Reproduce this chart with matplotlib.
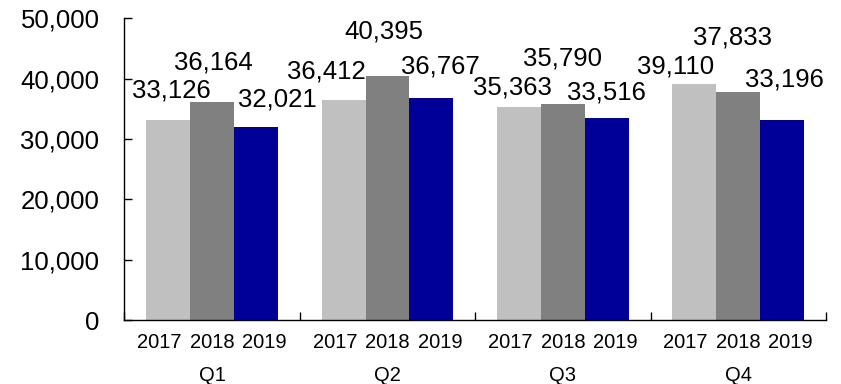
import matplotlib
matplotlib.use("Agg")
import matplotlib.pyplot as plt
from matplotlib.ticker import FuncFormatter

plt.rcParams['font.family'] = ['Liberation Sans', 'DejaVu Sans']

# Data
quarters = ["Q1", "Q2", "Q3", "Q4"]
years = ["2017", "2018", "2019"]
values_2017 = [33126, 36412, 35363, 39110]
values_2018 = [36164, 40395, 35790, 37833]
values_2019 = [32021, 36767, 33516, 33196]
y_ticks = [0, 10000, 20000, 30000, 40000, 50000]

series = [values_2017, values_2018, values_2019]
colors = ["#C0C0C0", "#808080", "#000099"]

# Label placement (pixel offsets from the top centre of each bar), per quarter then year
label_offsets = [
    [(3, 23), (1, 32), (21, 20)],
    [(-17, 22), (-4, 38), (9, 25)],
    [(-7, 12), (0, 39), (0, 18)],
    [(-19, 11), (-6, 47), (2, 33)],
]

fig = plt.figure(figsize=(8.41, 3.84), dpi=100)
ax = fig.add_axes([0.148, 1 - 320 / 384, 0.982 - 0.148, (320 - 18.3) / 384])

bar_w = 0.25
for j, vals in enumerate(series):
    xs = [i + (j - 1) * bar_w for i in range(len(quarters))]
    bars = ax.bar(xs, vals, width=bar_w, color=colors[j], linewidth=0)
    for i, (rect, v) in enumerate(zip(bars, vals)):
        dx, dy = label_offsets[i][j]
        ax.annotate(f"{v:,}", xy=(rect.get_x() + rect.get_width() / 2, v),
                    xytext=(dx, dy), textcoords="offset pixels",
                    ha="center", va="baseline", fontsize=18.5, color="black")

ax.set_xlim(-0.5, len(quarters) - 0.5)
ax.set_ylim(0, 50000)
ax.set_yticks(y_ticks)
ax.yaxis.set_major_formatter(FuncFormatter(lambda v, p: f"{int(v):,}"))
ax.tick_params(axis="y", direction="in", length=6, width=1, labelsize=18.5, pad=18)

# Group separators on the category axis
ax.set_xticks([k - 0.5 for k in range(len(quarters) + 1)])
ax.set_xticklabels([])
ax.tick_params(axis="x", which="major", direction="in", length=6, width=1)

# Year labels under each group, quarter labels beneath them
year_pos = []
year_lab = []
for i in range(len(quarters)):
    for j, yr in enumerate(years):
        year_pos.append(i + (j - 1) * 0.3)
        year_lab.append(yr)
ax.set_xticks(year_pos, minor=True)
ax.set_xticklabels(year_lab, minor=True)
ax.tick_params(axis="x", which="minor", length=0, labelsize=14.5, pad=9)

for i, q in enumerate(quarters):
    ax.annotate(q, xy=(i, 0), xycoords=("data", "axes fraction"),
                xytext=(0, -46), textcoords="offset pixels",
                ha="center", va="top", fontsize=14.5)

for s in ("top", "right"):
    ax.spines[s].set_visible(False)
for s in ("left", "bottom"):
    ax.spines[s].set_linewidth(1)
    ax.spines[s].set_color("black")

fig.savefig("out.png", dpi=100)
